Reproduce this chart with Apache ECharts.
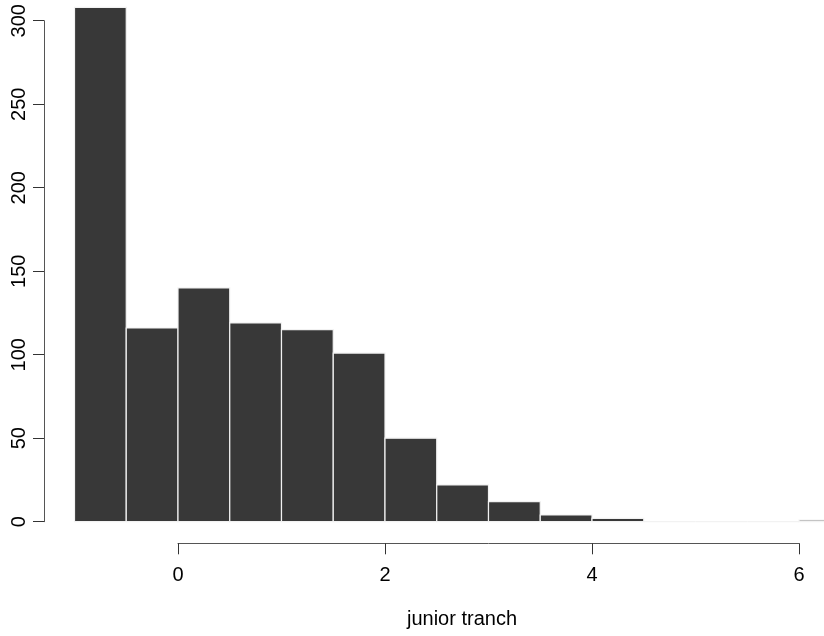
<!DOCTYPE html>
<html>
<head>
<meta charset="utf-8">
<script src="https://cdn.jsdelivr.net/npm/echarts@6/dist/echarts.min.js"></script>
<style>
html,body{margin:0;padding:0;background:#fff;}
#chart{width:824px;height:636px;}
</style>
</head>
<body>
<div id="chart"></div>
<script>
// Histogram bins (width 0.5) and counts
var binStarts = [-1, -0.5, 0, 0.5, 1, 1.5, 2, 2.5, 3, 3.5, 4, 4.5, 5, 5.5, 6];
var binEnds   = [-0.5, 0, 0.5, 1, 1.5, 2, 2.5, 3, 3.5, 4, 4.5, 5, 5.5, 6, 6.5];
var counts    = [308, 116, 140, 119, 115, 101, 50, 22, 12, 4, 2, 0, 0, 0, 1];
var xTicks = [0, 2, 4, 6];
var yTicks = [0, 50, 100, 150, 200, 250, 300];
var xLabel = 'junior tranch';

var FONT = '"Liberation Sans", Arial, Helvetica, sans-serif';
var data = binStarts.map(function (s, i) { return [s, binEnds[i], counts[i]]; });

var chart = echarts.init(document.getElementById('chart'), null, {renderer: 'canvas'});
chart.setOption({
  animation: false,
  backgroundColor: '#ffffff',
  title: {
    text: xLabel,
    left: 457,
    top: 604,
    textAlign: 'center',
    textStyle: {fontFamily: FONT, fontSize: 20, fontWeight: 'normal', color: '#000'}
  },
  grid: [
    {left: 74.5, top: 20.7, width: 776.25, height: 501, outerBoundsMode: 'none', containLabel: false},
    {left: 178, top: 500, width: 621, height: 43.3, outerBoundsMode: 'none', containLabel: false}
  ],
  xAxis: [
    {type: 'value', gridIndex: 0, min: -1, max: 6.5, show: false},
    {type: 'value', gridIndex: 1, min: xTicks[0], max: xTicks[xTicks.length - 1],
     interval: xTicks[1] - xTicks[0], position: 'bottom',
     axisLine: {show: true, onZero: false, lineStyle: {color: '#555', width: 1}},
     axisTick: {show: true, length: 11, lineStyle: {color: '#333', width: 1}},
     axisLabel: {show: true, margin: 22, fontFamily: FONT, fontSize: 20, color: '#000'},
     splitLine: {show: false}}
  ],
  yAxis: [
    {type: 'value', gridIndex: 0, min: yTicks[0], max: yTicks[yTicks.length - 1],
     interval: yTicks[1] - yTicks[0], offset: 30.5, position: 'left',
     axisLine: {show: true, onZero: false, lineStyle: {color: '#555', width: 1}},
     axisTick: {show: true, length: 11, lineStyle: {color: '#333', width: 1}},
     axisLabel: {show: true, rotate: 90, margin: 25, fontFamily: FONT, fontSize: 20, color: '#000',
                 align: 'center', verticalAlign: 'middle'},
     splitLine: {show: false}},
    {type: 'value', gridIndex: 1, show: false, min: 0, max: 1}
  ],
  series: [{
    type: 'custom',
    xAxisIndex: 0,
    yAxisIndex: 0,
    clip: false,
    data: data,
    encode: {x: [0, 1], y: 2},
    renderItem: function (params, api) {
      var p0 = api.coord([api.value(0), api.value(2)]);
      var p1 = api.coord([api.value(1), 0]);
      return {
        type: 'rect',
        shape: {x: p0[0], y: p0[1], width: p1[0] - p0[0], height: p1[1] - p0[1]},
        style: {fill: '#383838', stroke: '#f2f2f2', lineWidth: 1.2}
      };
    }
  }]
});
</script>
</body>
</html>
